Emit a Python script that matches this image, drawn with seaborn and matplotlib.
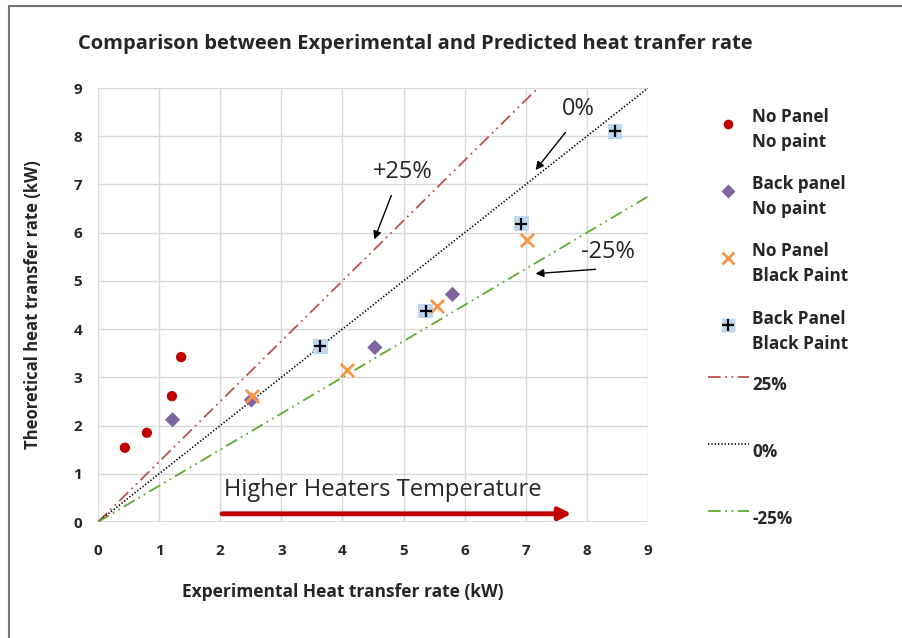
import matplotlib
matplotlib.use("Agg")
import matplotlib.pyplot as plt
import seaborn as sns
import numpy as np
import pandas as pd
from matplotlib.lines import Line2D
from matplotlib.legend_handler import HandlerTuple

# ---- data ----
np_np_x = [0.44, 0.80, 1.21, 1.36]
np_np_y = [1.54, 1.85, 2.61, 3.42]
bp_np_x = [1.22, 2.51, 4.53, 5.80]
bp_np_y = [2.12, 2.53, 3.62, 4.72]
np_bp_x = [2.52, 4.08, 5.55, 7.02]
np_bp_y = [2.62, 3.15, 4.47, 5.84]
bp_bp_x = [3.64, 5.36, 6.93, 8.46]
bp_bp_y = [3.64, 4.38, 6.19, 8.10]
line_x = [0, 9]
plus25_y = [0, 11.25]
zero_y = [0, 9]
minus25_y = [0, 6.75]
ticks = list(range(0, 10))

sns.set_theme(style="white")
plt.rcParams['font.family'] = ['Open Sans', 'DejaVu Sans']

W, H = 903, 638
fig = plt.figure(figsize=(W / 100, H / 100), dpi=100)
ax = fig.add_axes([98 / W, 1 - 522 / H, 550 / W, 434 / H])

DD = (0, (7, 2.5, 1, 2.5, 1, 2.5))
# reference lines
sns.lineplot(x=line_x, y=plus25_y, ax=ax, color='#C0504D', lw=1.3,
             linestyle=DD, zorder=2)
sns.lineplot(x=line_x, y=zero_y, ax=ax, color='black', lw=1.2,
             linestyle=(0, (0.8, 1.2)), zorder=2)
sns.lineplot(x=line_x, y=minus25_y, ax=ax, color='#5EAD2C', lw=1.3,
             linestyle=DD, zorder=2)

# scatter series
sns.scatterplot(x=np_np_x, y=np_np_y, ax=ax, marker='o', color='#C00000',
                s=55, edgecolor='none', zorder=4)
sns.scatterplot(x=bp_np_x, y=bp_np_y, ax=ax, marker='D', color='#8064A2',
                s=60, edgecolor='none', zorder=4)
sns.scatterplot(x=np_bp_x, y=np_bp_y, ax=ax, marker='x', color='#F79646',
                s=90, linewidth=2, zorder=5)
sns.scatterplot(x=bp_bp_x, y=bp_bp_y, ax=ax, marker='s', color='#BDD7EE',
                s=110, edgecolor='none', zorder=4)
sns.scatterplot(x=bp_bp_x, y=bp_bp_y, ax=ax, marker='+', color='black',
                s=70, linewidth=1.6, zorder=5)

ax.set_xlim(0, 9)
ax.set_ylim(0, 9)
ax.set_xticks(ticks)
ax.set_yticks(ticks)
ax.set_xticklabels([str(t) for t in ticks], fontsize=11, fontweight='bold')
ax.set_yticklabels([str(t) for t in ticks], fontsize=11, fontweight='bold')
ax.tick_params(axis='x', length=0, pad=16)
ax.tick_params(axis='y', length=0, pad=11.5)
ax.grid(True, color='#D9D9D9', lw=1.0)
for s in ax.spines.values():
    s.set_visible(False)
ax.axhline(0, color='#D9D9D9', lw=1.2, zorder=1)
ax.axvline(0, color='#D9D9D9', lw=1.2, zorder=1)

ax.set_xlabel('Experimental Heat transfer rate (kW)', fontsize=12.5,
              fontweight='bold')
ax.set_ylabel('Theoretical heat transfer rate (kW)', fontsize=12,
              fontweight='bold')
ax.xaxis.set_label_coords((343 - 98) / 550, -(592 - 522) / 434)
ax.yaxis.set_label_coords(-(98 - 33) / 550, 0.5)
ax.xaxis.label.set_va('center')
ax.yaxis.label.set_va('center')

fig.text(415 / W, 1 - 44 / H,
         'Comparison between Experimental and Predicted heat tranfer rate',
         fontsize=14.5, fontweight='bold', ha='center', va='center')

# annotations
FS = 17
arrow_kw = dict(arrowstyle='-|>', color='black', lw=1.0,
                shrinkA=0, shrinkB=0, mutation_scale=12)
ax.text(4.99, 7.26, '+25%', fontsize=FS, ha='center', va='center')
ax.annotate('', xy=(4.52, 5.86), xytext=(4.80, 6.77), arrowprops=arrow_kw)
ax.text(7.86, 8.57, '0%', fontsize=FS, ha='center', va='center')
ax.annotate('', xy=(7.16, 7.30), xytext=(7.65, 8.08), arrowprops=arrow_kw)
ax.text(8.35, 5.59, '-25%', fontsize=FS, ha='center', va='center')
ax.annotate('', xy=(7.16, 5.15), xytext=(8.14, 5.24), arrowprops=arrow_kw)
ax.text(2.06, 0.66, 'Higher Heaters Temperature', fontsize=FS,
        ha='left', va='center')
ax.annotate('', xy=(7.75, 0.17), xytext=(2.03, 0.17),
            arrowprops=dict(arrowstyle='-|>', color='#C00000', lw=3.5,
                            shrinkA=0, shrinkB=0, mutation_scale=18))

# legend
h1 = Line2D([], [], marker='o', color='#C00000', ls='none', ms=7, mec='none')
h2 = Line2D([], [], marker='D', color='#8064A2', ls='none', ms=7, mec='none')
h3 = Line2D([], [], marker='x', color='#F79646', ls='none', ms=9, mew=2)
h4a = Line2D([], [], marker='s', color='#BDD7EE', ls='none', ms=10, mec='none')
h4b = Line2D([], [], marker='+', color='black', ls='none', ms=8, mew=1.6)
h5 = Line2D([], [], color='#C0504D', lw=1.3, ls=DD)
h6 = Line2D([], [], color='black', lw=1.2, ls=(0, (0.8, 1.2)))
h7 = Line2D([], [], color='#5EAD2C', lw=1.3, ls=DD)
marker_handles = [h1, h2, h3, (h4a, h4b)]
marker_labels = ['No Panel\nNo paint', 'Back panel\nNo paint',
                 'No Panel\nBlack Paint', 'Back Panel\nBlack Paint']
line_handles = [h5, h6, h7]
line_labels = ['25%', '0%', '-25%']

leg_kw = dict(loc='upper left', frameon=False, fontsize=12.3, handlelength=2.4,
              handleheight=3.4, handletextpad=0.2,
              borderpad=0, borderaxespad=0,
              handler_map={tuple: HandlerTuple(ndivide=1, pad=0)})
leg1 = fig.legend(marker_handles, marker_labels, labelspacing=1.32,
                  bbox_to_anchor=(708 / W, 1 - 108 / H), **leg_kw)
leg2 = fig.legend(line_handles, line_labels, labelspacing=1.47,
                  bbox_to_anchor=(708 / W, 1 - 364 / H), **leg_kw)
for leg in (leg1, leg2):
    for t in leg.get_texts():
        t.set_fontweight('bold')
        t.set_linespacing(1.5)

# chart border
fig.add_artist(Line2D([8.5 / W, 8.5 / W], [0, 1 - 5.5 / H], transform=fig.transFigure,
                      color='#767676', lw=1.5))
fig.add_artist(Line2D([8.5 / W, 1], [1 - 5.5 / H, 1 - 5.5 / H], transform=fig.transFigure,
                      color='#767676', lw=1.5))

fig.savefig('out.png', dpi=100, facecolor='white')
